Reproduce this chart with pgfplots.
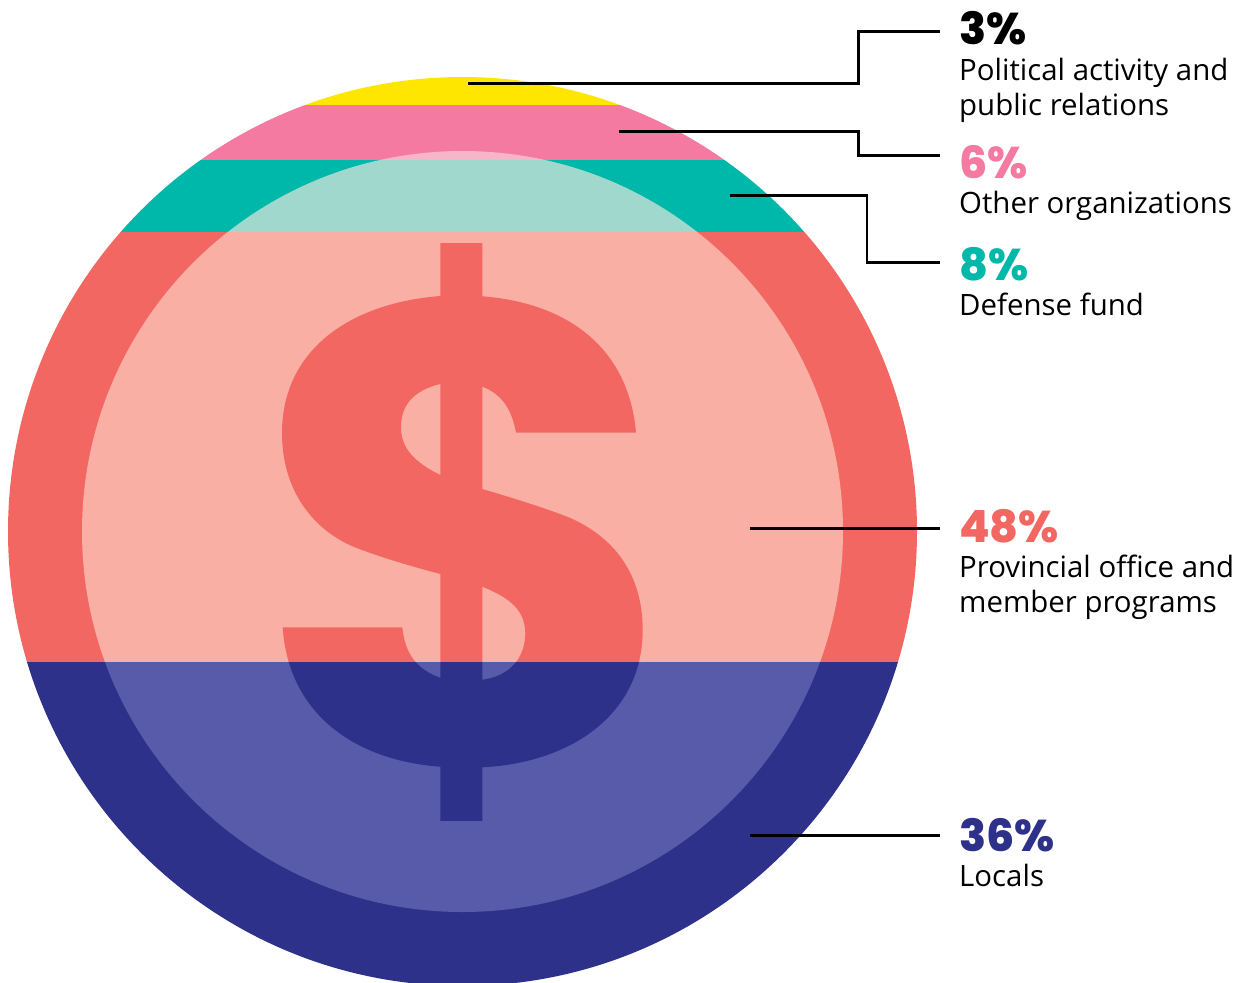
\documentclass[border=0pt]{standalone}
\usepackage{fontspec}
\usepackage{pgfplots}
\pgfplotsset{compat=1.18}
\setmainfont{Open Sans}
\newfontfamily\pct{Poppins}[BoldFont={Poppins ExtraBold}]
\definecolor{cy}{HTML}{FFE600}
\definecolor{cp}{HTML}{F47AA2}
\definecolor{ct}{HTML}{00B8A9}
\definecolor{cc}{HTML}{F36763}
\definecolor{cn}{HTML}{2E3189}
\definecolor{lp}{HTML}{F7B5C9}
\definecolor{lt}{HTML}{A0D8CE}
\definecolor{lc}{HTML}{F9AFA3}
\definecolor{ln}{HTML}{585BA9}
% top and bottom edge of each band, in pixels from the top
\newcommand{\bands}[5]{%
  \addplot[fill=#1,draw=none] coordinates {(0,77)(1241,77)(1241,105)(0,105)} --cycle;
  \addplot[fill=#2,draw=none] coordinates {(0,105)(1241,105)(1241,160)(0,160)} --cycle;
  \addplot[fill=#3,draw=none] coordinates {(0,160)(1241,160)(1241,232)(0,232)} --cycle;
  \addplot[fill=#4,draw=none] coordinates {(0,232)(1241,232)(1241,662)(0,662)} --cycle;
  \addplot[fill=#5,draw=none] coordinates {(0,662)(1241,662)(1241,986)(0,986)} --cycle;
}
\newcommand{\lab}[3]{%
  \node[anchor=base west,inner sep=0pt,text=#1,font=\pct\bfseries\fontsize{44.4}{46}\selectfont] at (axis cs:959,#2) {#3};
}
\newcommand{\txt}[2]{%
  \node[anchor=base west,inner sep=0pt,text=black,font=\fontsize{29.4}{35}\selectfont] at (axis cs:959,#1) {#2};
}
\begin{document}
\begin{tikzpicture}
\begin{axis}[
  scale only axis, width=1241pt, height=982pt,
  xmin=0, xmax=1241, ymin=0, ymax=982, y dir=reverse,
  hide axis, clip=true, every axis plot/.append style={line join=miter}
]
% outer disc
\begin{scope}
  \clip (axis cs:462.5,531.5) circle [radius=454.5];
  \bands{cy}{cp}{ct}{cc}{cn}
\end{scope}
% inner disc
\begin{scope}
  \clip (axis cs:462.5,531.5) circle [radius=380.5];
  \bands{cy}{lp}{lt}{lc}{ln}
\end{scope}
% dollar: vertical bar
\begin{scope}
  \clip (axis cs:440.3,243) rectangle (axis cs:482.3,820.7);
  \bands{cy}{cp}{ct}{cc}{cn}
\end{scope}
% dollar: S
\begin{scope}
  \clip (axis cs:440.3,296) -- (axis cs:482.3,296.3)
   .. controls (axis cs:570,303) and (axis cs:629,350) .. (axis cs:636,432.7)
   -- (axis cs:516,432.7)
   .. controls (axis cs:512,410) and (axis cs:502,394) .. (axis cs:482.3,386.7)
   -- (axis cs:440.3,384)
   .. controls (axis cs:415,390) and (axis cs:401,404) .. (axis cs:401,427)
   .. controls (axis cs:401,448) and (axis cs:414,462) .. (axis cs:440.3,475)
   -- (axis cs:482.3,489)
   .. controls (axis cs:520,500) and (axis cs:550,510) .. (axis cs:568,517)
   .. controls (axis cs:615,537) and (axis cs:642.7,575) .. (axis cs:642.7,630)
   .. controls (axis cs:642.7,715) and (axis cs:570,763) .. (axis cs:482.3,767.3)
   -- (axis cs:440.3,766.7)
   .. controls (axis cs:350,760) and (axis cs:288,710) .. (axis cs:282.7,627.3)
   -- (axis cs:402.3,627.3)
   .. controls (axis cs:405,655) and (axis cs:418,670) .. (axis cs:440.3,677.7)
   -- (axis cs:482.3,679.7)
   .. controls (axis cs:510,676) and (axis cs:525,658) .. (axis cs:525.3,633.3)
   .. controls (axis cs:525,610) and (axis cs:510,598) .. (axis cs:482.3,586.7)
   -- (axis cs:440.3,574)
   .. controls (axis cs:410,566) and (axis cs:380,557) .. (axis cs:356.7,548)
   .. controls (axis cs:320,534) and (axis cs:282,497) .. (axis cs:282,433)
   .. controls (axis cs:282,350) and (axis cs:350,303) .. (axis cs:440.3,296) -- cycle;
  \bands{cy}{cp}{ct}{cc}{cn}
\end{scope}
% leader lines
\addplot[black,line width=2.7pt,no marks] coordinates {(468,83.5)(858.5,83.5)(858.5,31.5)(940,31.5)};
\addplot[black,line width=2.7pt,no marks] coordinates {(619,131.5)(858.5,131.5)(858.5,155.5)(940,155.5)};
\addplot[black,line width=2.7pt,no marks] coordinates {(730,195.5)(867,195.5)(867,262.5)(940,262.5)};
\addplot[black,line width=2.7pt,no marks] coordinates {(750,528.5)(940,528.5)};
\addplot[black,line width=2.7pt,no marks] coordinates {(750,835.5)(940,835.5)};
% labels
\lab{black}{45}{3\%}
\txt{81}{Political activity and}
\txt{115.5}{public relations}
\lab{cp}{178}{6\%}
\txt{213.5}{Other organizations}
\lab{ct}{280}{8\%}
\txt{315}{Defense fund}
\lab{cc}{542}{48\%}
\txt{577}{Provincial office and}
\txt{612}{member programs}
\lab{cn}{851}{36\%}
\txt{886}{Locals}
\end{axis}
\pgfresetboundingbox
\useasboundingbox (0,0) rectangle (1241pt,982pt);
\end{tikzpicture}
\end{document}
